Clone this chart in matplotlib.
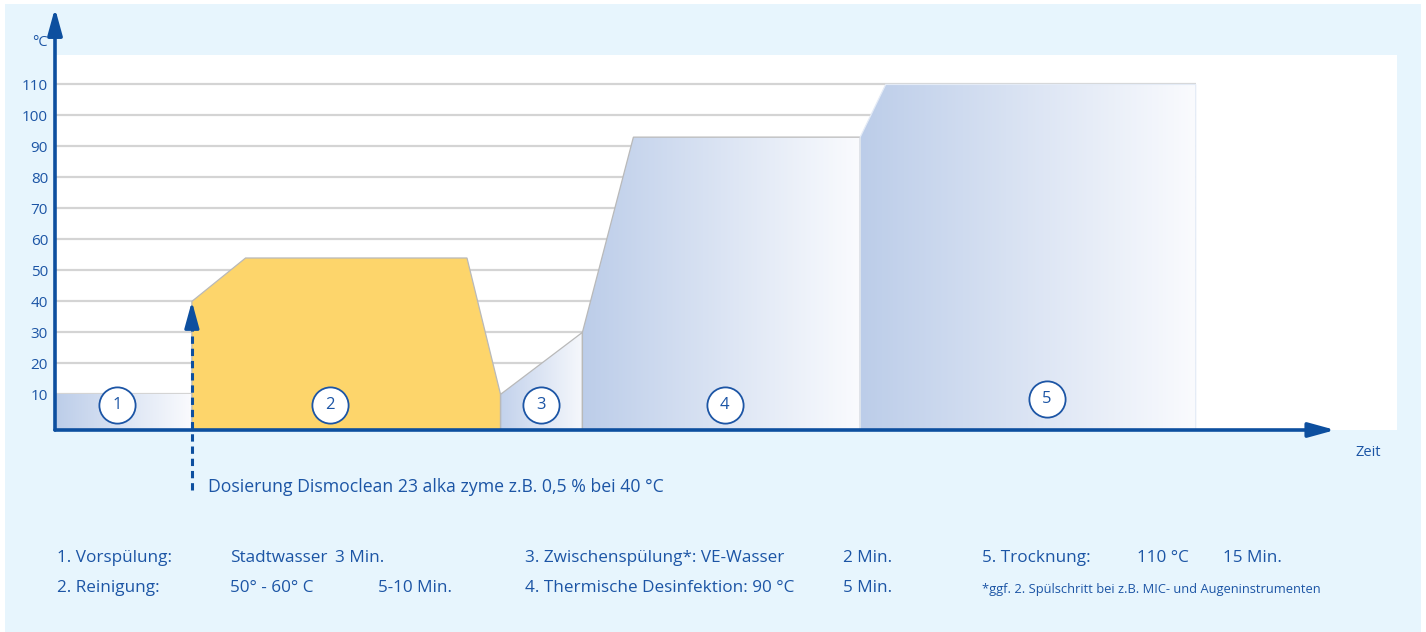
import numpy as np
import matplotlib.pyplot as plt
import matplotlib.patches as mpatches
from matplotlib.colors import LinearSegmentedColormap

plt.rcParams['font.family'] = ['Open Sans', 'DejaVu Sans']

# data: zeit (arbitrary units 0..100), temperatur in °C
yticks = [10, 20, 30, 40, 50, 60, 70, 80, 90, 100, 110]

step1_x = [0, 10.2]
step1_y = [10, 10]

step2_x = [10.2, 10.2, 14.2, 30.7, 33.2, 33.2]
step2_y = [0, 40, 54, 54, 10, 0]

step3_x = [33.2, 33.2, 39.3, 39.3]
step3_y = [0, 10, 30, 0]

step4_x = [39.3, 39.3, 43.1, 60.0, 60.0]
step4_y = [0, 30, 93, 93, 0]

step5_x = [60.0, 60.0, 61.9, 85.0, 85.0]
step5_y = [0, 93, 110, 110, 0]

labels_x = [4.6, 20.5, 36.2, 49.9, 73.9]
labels_y = [6.5, 6.5, 6.5, 6.5, 8.5]
labels = ['1', '2', '3', '4', '5']

dosier_x = 10.2
dosier_y = 40

blue = '#1c55a5'
axis_blue = '#0d4f9f'
grad_cmap = LinearSegmentedColormap.from_list('g', ['#bccde9', '#fafbfe'])
grad_cmap3 = LinearSegmentedColormap.from_list('g3', ['#c3d2ec', '#f6f8fc'])

W, H = 1426, 632
fig = plt.figure(figsize=(W/100, H/100), dpi=100, facecolor='white')
fig.patches.append(mpatches.Rectangle((5/W, 0), (1421-5)/W, (H-4)/H, transform=fig.transFigure,
                                      facecolor='#e7f5fd', edgecolor='none', zorder=-10))

ax = fig.add_axes([55/W, 1-430/H, (1397-55)/W, (430-55)/H])
ax.set_zorder(1)
ax.set_facecolor('white')
ymin, ymax = -1.5, 119.5
ax.set_xlim(0, 100)
ax.set_ylim(ymin, ymax)
for s in ax.spines.values():
    s.set_visible(False)
ax.set_xticks([])
ax.set_yticks(yticks)
ax.set_yticklabels([str(v) for v in yticks], fontsize=11, color=blue)
ax.tick_params(axis='y', length=0, pad=5)

# gridlines
ax.hlines(yticks, 0, step5_x[-1], color='#d4d4d4', lw=1.6, zorder=1)

def shape(xs, ys, cmap=None, face=None, edge='#b9b9b9', z=2):
    ys = [ymin if v == 0 else v for v in ys]
    poly = mpatches.Polygon(np.column_stack([xs, ys]), closed=True,
                            facecolor=face if face else 'none', edgecolor=edge, lw=0.9, zorder=z+0.1)
    ax.add_patch(poly)
    if cmap is not None:
        grad = np.linspace(0, 1, 256).reshape(1, -1)
        im = ax.imshow(grad, extent=[min(xs), max(xs), min(ys), max(ys)], aspect='auto',
                       cmap=cmap, origin='lower', zorder=z, interpolation='bilinear')
        clip = mpatches.Polygon(np.column_stack([xs, ys]), closed=True, transform=ax.transData)
        im.set_clip_path(clip)

shape(step1_x + step1_x[::-1], step1_y + [0, 0], cmap=grad_cmap, edge='none')
shape(step2_x, step2_y, face='#fdd56b')
shape(step3_x, step3_y, cmap=grad_cmap3)
shape(step4_x, step4_y, cmap=grad_cmap)
shape(step5_x, step5_y, cmap=grad_cmap, edge='#e4ebf6')

ax.set_xlim(0, 100)
ax.set_ylim(ymin, ymax)

# numbered circles
ax.scatter(labels_x, labels_y, s=680, facecolor='white', edgecolor=blue, lw=1.3, zorder=5)
for x, y, t in zip(labels_x, labels_y, labels):
    ax.text(x, y, t, ha='center', va='center', fontsize=12, color=blue, zorder=6)

# axes with arrows
ax.annotate('', xy=(0, 1.125), xytext=(0, 0), xycoords='axes fraction',
            arrowprops=dict(arrowstyle='-|>,head_length=0.8,head_width=0.22', lw=2.6,
                            color=axis_blue, mutation_scale=20, shrinkA=0, shrinkB=0),
            annotation_clip=False, zorder=7)
ax.annotate('', xy=(0.954, 0), xytext=(0, 0), xycoords='axes fraction',
            arrowprops=dict(arrowstyle='-|>,head_length=0.8,head_width=0.22', lw=2.6,
                            color=axis_blue, mutation_scale=20, shrinkA=0, shrinkB=0),
            annotation_clip=False, zorder=7)

# dosing arrow
ax.plot([dosier_x, dosier_x], [ymin - 19.5, dosier_y - 7], transform=ax.transData,
        ls=(0, (2.4, 1.6)), lw=2.2, color=axis_blue, clip_on=False, zorder=7)
ax.annotate('', xy=(dosier_x, dosier_y), xytext=(dosier_x, dosier_y - 8),
            arrowprops=dict(arrowstyle='-|>,head_length=0.8,head_width=0.22', lw=2.2,
                            color=axis_blue, mutation_scale=20, shrinkA=0, shrinkB=0),
            annotation_clip=False, zorder=7)

def ftext(x, y, s, size=12.3, **kw):
    fig.text(x/W, 1-y/H, s, fontsize=size, color=blue, va='center', **kw)

ftext(48, 43, '°C', size=10.5, ha='right')
ftext(1356, 452, 'Zeit', size=10.5)
ftext(208, 487, 'Dosierung Dismoclean 23 alka zyme z.B. 0,5 % bei 40 °C', size=12.7)

ftext(57, 558, '1. Vorspülung:')
ftext(230, 558, 'Stadtwasser')
ftext(335, 558, '3 Min.')
ftext(57, 588, '2. Reinigung:')
ftext(230, 588, '50° - 60° C')
ftext(378, 588, '5-10 Min.')

ftext(525, 558, '3. Zwischenspülung*: VE-Wasser')
ftext(843, 558, '2 Min.')
ftext(525, 588, '4. Thermische Desinfektion: 90 °C')
ftext(843, 588, '5 Min.')

ftext(982, 558, '5. Trocknung:')
ftext(1137, 558, '110 °C')
ftext(1223, 558, '15 Min.')
ftext(982, 590, '*ggf. 2. Spülschritt bei z.B. MIC- und Augeninstrumenten', size=9.3)

plt.savefig('out.png', dpi=100, facecolor='white')
